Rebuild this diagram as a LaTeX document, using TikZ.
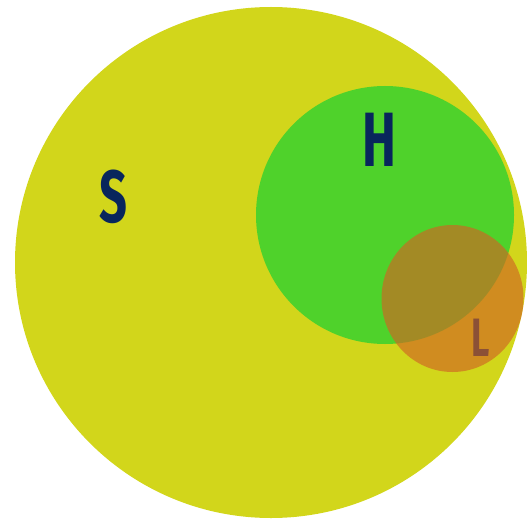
\documentclass[tikz,border=0pt]{standalone}
\usepackage{fontspec}
\setmainfont{Fira Sans}
\definecolor{syellow}{RGB}{210,214,27}
\definecolor{hgreen}{RGB}{79,210,43}
\definecolor{lorange}{RGB}{207,102,35}
\definecolor{navy}{RGB}{8,38,92}
\begin{document}
\begin{tikzpicture}[x=1pt,y=1pt,
  letter/.style={inner sep=0pt, anchor=base, text=navy, font=\bfseries, xscale=0.66}]
\useasboundingbox (0,0) rectangle (527,523);
\begin{scope}
\clip (0,0) rectangle (527,523);
\fill[syellow] (271,260.5) ellipse [x radius=256, y radius=255.5];
\fill[hgreen] (385,308) circle [radius=129];
\node[letter, font=\bfseries\fontsize{74}{74}\selectfont] (S) at (113,301) {S};
\node[letter, font=\bfseries\fontsize{77}{77}\selectfont] (H) at (379,356) {H};
\node[letter, font=\bfseries\fontsize{54}{54}\selectfont] (L) at (481,167) {L};
\fill[lorange, fill opacity=0.66] (452.5,224.5) ellipse [x radius=71, y radius=73.5];
\end{scope}
\end{tikzpicture}
\end{document}
